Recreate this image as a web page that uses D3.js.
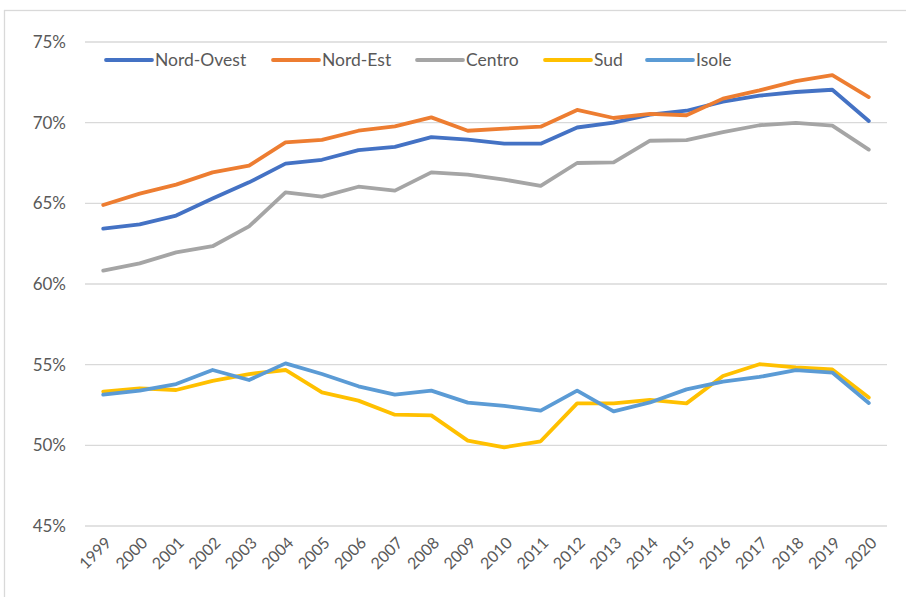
<!DOCTYPE html>
<html>
<head>
<meta charset="utf-8">
<script src="https://cdn.jsdelivr.net/npm/d3@7"></script>
<style>
  html, body { margin: 0; padding: 0; background: #fff; }
  svg text { font-family: Lato, "Open Sans", sans-serif; fill: #595959; }
</style>
</head>
<body>
<div id="vis"></div>
<script>
// data
var years = ['1999','2000','2001','2002','2003','2004','2005','2006','2007','2008','2009',
  '2010','2011','2012','2013','2014','2015','2016','2017','2018','2019','2020'];

var nordOvest = [63.43, 63.7, 64.24, 65.3, 66.3, 67.46, 67.7, 68.3, 68.5, 69.1, 68.95,
  68.7, 68.7, 69.7, 70.0, 70.5, 70.74, 71.3, 71.67, 71.9, 72.04, 70.1];
var nordEst = [64.9, 65.6, 66.16, 66.92, 67.34, 68.78, 68.93, 69.5, 69.77, 70.33, 69.5,
  69.63, 69.75, 70.79, 70.29, 70.55, 70.46, 71.49, 72.0, 72.58, 72.94, 71.59];
var centro = [60.83, 61.28, 61.96, 62.34, 63.57, 65.68, 65.42, 66.03, 65.79, 66.92, 66.78,
  66.47, 66.08, 67.5, 67.54, 68.88, 68.92, 69.42, 69.84, 69.99, 69.82, 68.33];
var sud = [53.33, 53.53, 53.43, 54.0, 54.42, 54.67, 53.28, 52.77, 51.9, 51.86, 50.29,
  49.88, 50.25, 52.6, 52.6, 52.82, 52.6, 54.3, 55.03, 54.83, 54.7, 52.96];
var isole = [53.14, 53.39, 53.8, 54.67, 54.05, 55.08, 54.42, 53.66, 53.14, 53.39, 52.65,
  52.44, 52.15, 53.39, 52.1, 52.66, 53.47, 53.95, 54.24, 54.66, 54.51, 52.62];

var seriesNames = ['Nord-Ovest', 'Nord-Est', 'Centro', 'Sud', 'Isole'];
var seriesColors = ['#4472C4', '#ED7D31', '#A5A5A5', '#FFC000', '#5B9BD5'];
var yTicks = [45, 50, 55, 60, 65, 70, 75];

var width = 906;
var height = 597;
var plot = { left: 85, right: 887, top: 42, bottom: 526 };

var svg = d3.select('#vis')
  .append('svg')
  .attr('width', width)
  .attr('height', height);

// chart area frame (only top and left edges are visible in the picture)
svg.append('rect')
  .attr('x', 4.5)
  .attr('y', 10.5)
  .attr('width', 1000)
  .attr('height', 700)
  .attr('fill', 'none')
  .attr('stroke', '#D9D9D9')
  .attr('stroke-width', 1.3);

var x = d3.scaleBand()
  .domain(years)
  .range([plot.left, plot.right]);

var y = d3.scaleLinear()
  .domain([45, 75])
  .range([plot.bottom, plot.top]);

// gridlines
svg.append('g')
  .selectAll('line')
  .data(yTicks)
  .enter().append('line')
  .attr('x1', plot.left)
  .attr('x2', plot.right)
  .attr('y1', function(d) { return y(d); })
  .attr('y2', function(d) { return y(d); })
  .attr('stroke', '#D9D9D9')
  .attr('stroke-width', 1.3);

// y labels
svg.append('g')
  .selectAll('text')
  .data(yTicks)
  .enter().append('text')
  .attr('x', 66)
  .attr('y', function(d) { return y(d); })
  .attr('dy', '0.35em')
  .attr('text-anchor', 'end')
  .style('font-size', '17px')
  .text(function(d) { return d + '%'; });

// x labels, rotated
svg.append('g')
  .selectAll('text')
  .data(years)
  .enter().append('text')
  .attr('transform', function(d) {
    var cx = x(d) + x.bandwidth() / 2 + 5;
    return 'translate(' + cx + ',' + (plot.bottom + 14) + ') rotate(-45)';
  })
  .attr('text-anchor', 'end')
  .attr('dy', '0.35em')
  .style('font-size', '16px')
  .text(function(d) { return d; });

var allSeries = [nordOvest, nordEst, centro, sud, isole];

var line = d3.line()
  .x(function(d, i) { return x(years[i]) + x.bandwidth() / 2; })
  .y(function(d) { return y(d); });

svg.append('g')
  .selectAll('path')
  .data(allSeries)
  .enter().append('path')
  .attr('d', line)
  .attr('fill', 'none')
  .attr('stroke', function(d, i) { return seriesColors[i]; })
  .attr('stroke-width', 3.8)
  .attr('stroke-linejoin', 'round')
  .attr('stroke-linecap', 'round');

// legend
var legendX = [106, 273, 417, 545, 647];
var legend = svg.append('g')
  .selectAll('g')
  .data(seriesNames)
  .enter().append('g')
  .attr('transform', function(d, i) { return 'translate(' + legendX[i] + ',60)'; });

legend.append('line')
  .attr('x1', 0)
  .attr('x2', 46)
  .attr('stroke', function(d, i) { return seriesColors[i]; })
  .attr('stroke-width', 3.8)
  .attr('stroke-linecap', 'round');

legend.append('text')
  .attr('x', 49)
  .attr('dy', '0.35em')
  .style('font-size', '17.5px')
  .text(function(d) { return d; });
</script>
</body>
</html>
